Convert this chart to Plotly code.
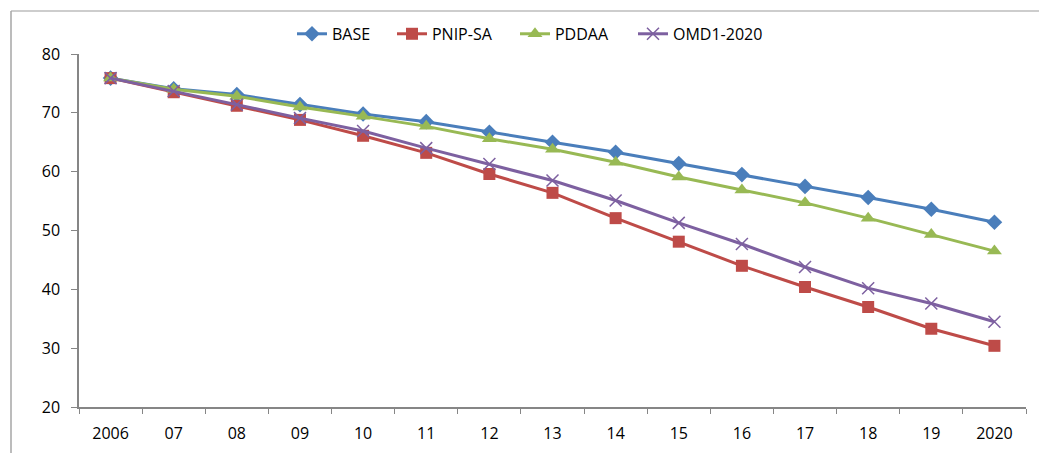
import plotly.graph_objects as go

years = ["2006", "07", "08", "09", "10", "11", "12", "13", "14", "15", "16", "17", "18", "19", "2020"]
base = [75.9, 74.1, 73.1, 71.4, 69.8, 68.5, 66.7, 65.0, 63.3, 61.4, 59.5, 57.5, 55.6, 53.6, 51.4]
pnip_sa = [75.9, 73.5, 71.2, 68.8, 66.1, 63.2, 59.6, 56.4, 52.1, 48.1, 44.0, 40.4, 37.0, 33.3, 30.4]
pddaa = [75.9, 74.0, 72.8, 71.0, 69.4, 67.7, 65.6, 63.8, 61.6, 59.1, 56.9, 54.7, 52.1, 49.3, 46.5]
omd = [75.9, 73.7, 71.4, 69.1, 66.9, 64.0, 61.3, 58.5, 55.1, 51.3, 47.7, 43.8, 40.2, 37.6, 34.5]

FONT = "Open Sans"

fig = go.Figure()
fig.add_trace(go.Scatter(x=years, y=base, name="BASE", mode="lines+markers", legend="legend",
                         showlegend=True,
                         line=dict(color="#4A7EBB", width=3),
                         marker=dict(symbol="diamond", size=12, color="#4A7EBB")))
fig.add_trace(go.Scatter(x=years, y=pnip_sa, name="PNIP-SA", mode="lines+markers", legend="legend2",
                         showlegend=True,
                         line=dict(color="#BE4B48", width=3),
                         marker=dict(symbol="square", size=12, color="#BE4B48")))
fig.add_trace(go.Scatter(x=years, y=pddaa, name="PDDAA", mode="lines+markers", legend="legend3",
                         showlegend=True,
                         line=dict(color="#98B954", width=3),
                         marker=dict(symbol="triangle-up", size=13, color="#98B954")))
fig.add_trace(go.Scatter(x=years, y=omd, name="OMD1-2020", mode="lines+markers", legend="legend4",
                         showlegend=True,
                         line=dict(color="#7D60A0", width=3),
                         marker=dict(symbol="x-thin", size=12, color="#7D60A0",
                                     line=dict(color="#7D60A0", width=1.5))))

def leg(x):
    return dict(orientation="h", x=x, xanchor="left", y=1.057, yanchor="middle",
                font=dict(family=FONT, size=16), bgcolor="rgba(0,0,0,0)", itemwidth=30)

fig.update_layout(
    width=1039, height=453,
    margin=dict(l=79, r=13, t=54, b=46),
    paper_bgcolor="white", plot_bgcolor="white",
    showlegend=True,
    font=dict(family=FONT, size=16, color="#000000"),
    legend=leg(0.2249), legend2=leg(0.3305), legend3=leg(0.4604), legend4=leg(0.5850),
    shapes=[
        dict(type="line", xref="paper", yref="paper", x0=-0.0718, x1=1.02, y0=1.1218, y1=1.1218,
             line=dict(color="#BDBDBD", width=1.5)),
        dict(type="line", xref="paper", yref="paper", x0=-0.0718, x1=-0.0718, y0=1.1218, y1=-0.14,
             line=dict(color="#A6A6A6", width=1.5)),
    ],
)
fig.update_xaxes(type="category", range=[-0.5, 14.5], showgrid=False, showline=True,
                 linecolor="#868686", linewidth=1.5, automargin=False,
                 ticks="outside", tickson="boundaries", ticklen=5, tickcolor="#868686",
                 ticklabelstandoff=11,
                 tickfont=dict(family=FONT, size=16), zeroline=False)
fig.update_yaxes(range=[20, 80], dtick=10, showgrid=False, showline=True, linecolor="#868686",
                 linewidth=1.5, ticks="outside", ticklen=6, tickcolor="#868686",
                 ticklabelstandoff=8, automargin=False,
                 tickfont=dict(family=FONT, size=16), zeroline=False)

fig.write_html("out.html")
